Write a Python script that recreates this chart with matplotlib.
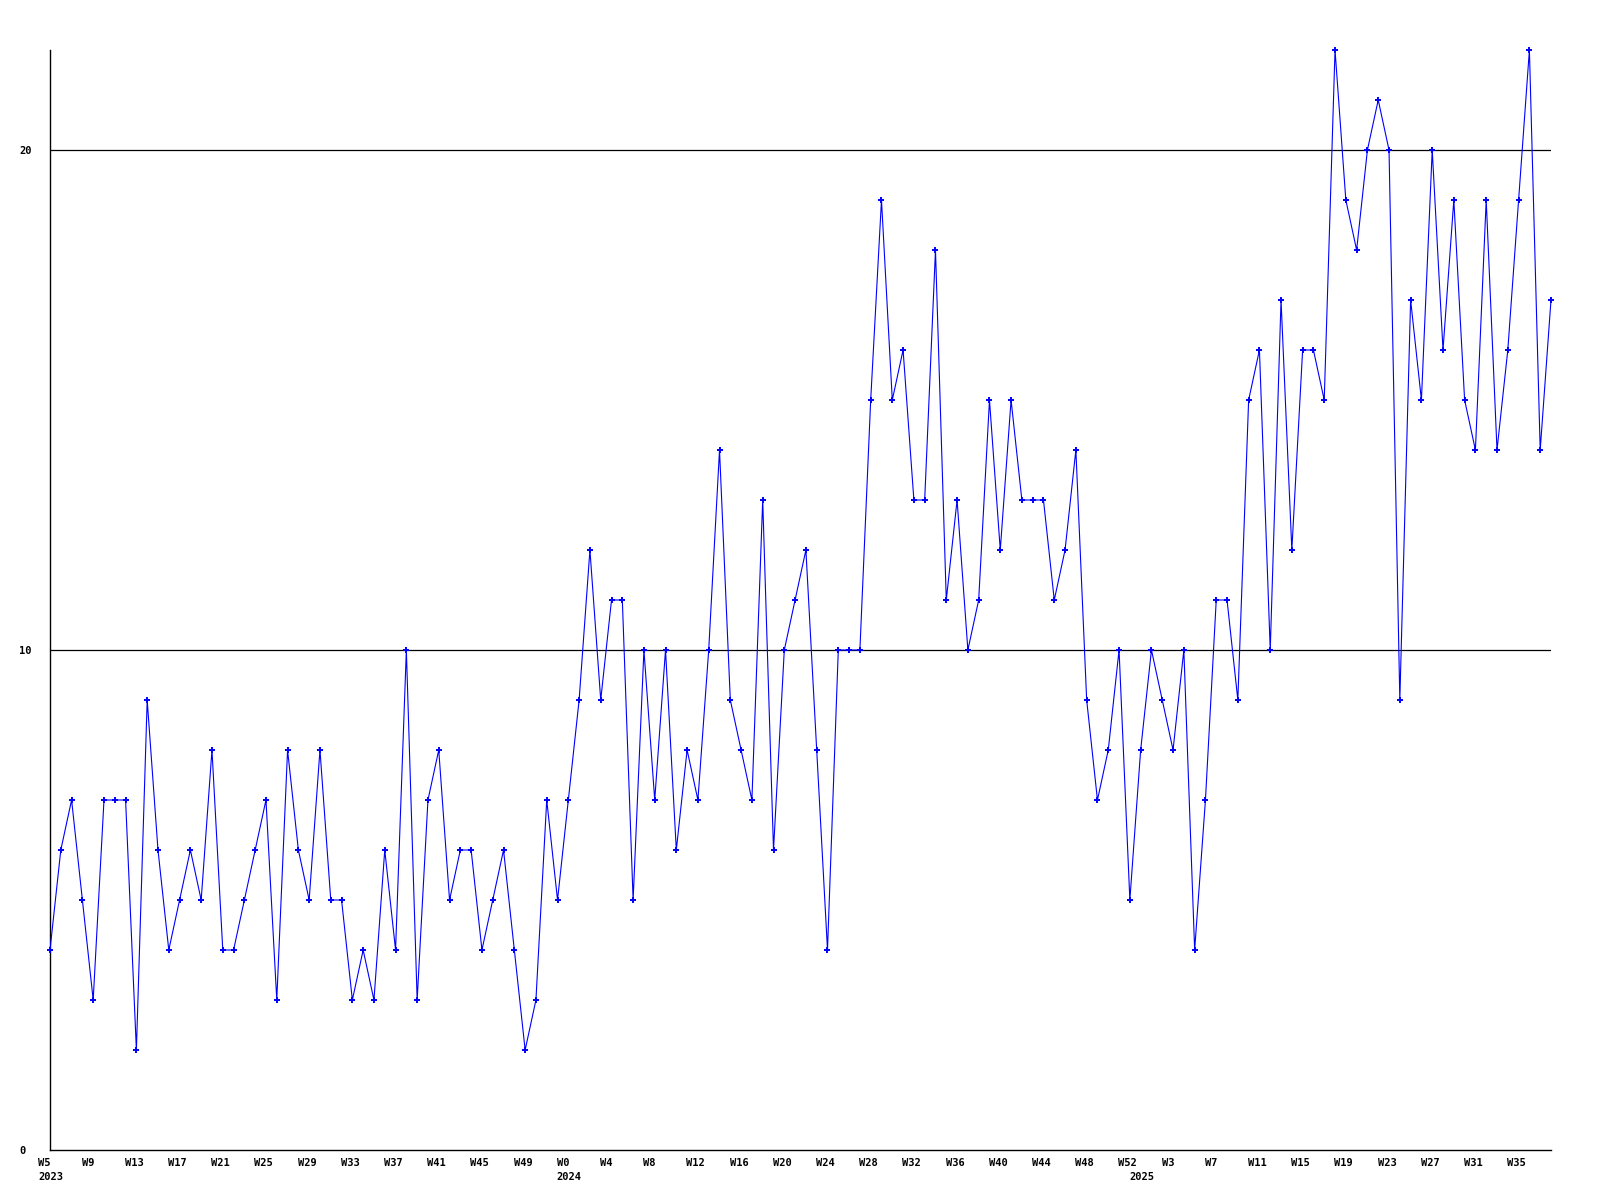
import matplotlib
matplotlib.use('Agg')
import matplotlib.pyplot as plt
import matplotlib.transforms as mtransforms

########################################
# Weekly counts, 2023 W5 .. 2025 W38

counts_2023 = [4, 6, 7, 5, 3, 7, 7, 7, 2, 9, 6, 4, 5, 6, 5, 8,
               4, 4, 5, 6, 7, 3, 8, 6, 5, 8, 5, 5, 3, 4, 3, 6,
               4, 10, 3, 7, 8, 5, 6, 6, 4, 5, 6, 4, 2, 3, 7, 5]
counts_2024 = [7, 9, 12, 9, 11, 11, 5, 10, 7, 10, 6, 8, 7, 10, 14, 9,
               8, 7, 13, 6, 10, 11, 12, 8, 4, 10, 10, 10, 15, 19, 15, 16,
               13, 13, 18, 11, 13, 10, 11, 15, 12, 15, 13, 13, 13, 11, 12, 14,
               9, 7, 8, 10, 5]
counts_2025 = [8, 10, 9, 8, 10, 4, 7, 11, 11, 9, 15, 16, 10, 17, 12, 16,
               16, 15, 22, 19, 18, 20, 21, 20, 9, 17, 15, 20, 16, 19, 15, 14,
               19, 14, 16, 19, 22, 14, 17]

week_labels = ([f'W{w}' for w in range(5, 53)] +
               [f'W{w}' for w in range(0, 53)] +
               [f'W{w}' for w in range(0, 39)])
year_labels = ['2023', '2024', '2025']
year_starts = [0, len(counts_2023), len(counts_2023) + len(counts_2024)]

counts = counts_2023 + counts_2024 + counts_2025
x = list(range(len(counts)))

########################################

plt.rcParams['font.family'] = 'DejaVu Sans Mono'
plt.rcParams['font.weight'] = 'bold'
plt.rcParams['font.size'] = 7.5

fig = plt.figure(figsize=(16, 12), dpi=100)
fig.patch.set_facecolor('white')
ax = fig.add_axes([50 / 1600, 50 / 1200, 1501 / 1600, 1100 / 1200])

ax.plot(x, counts, color='#0000ff', linewidth=0.8, marker='+', markersize=4,
        markeredgewidth=1.4, clip_on=False, zorder=3)

ax.set_xlim(0, len(counts) - 1)
ax.set_ylim(0, 22)

for v in (10, 20):
    ax.axhline(v, color='black', linewidth=0.9, zorder=1)

for side in ('top', 'right'):
    ax.spines[side].set_visible(False)
for side in ('left', 'bottom'):
    ax.spines[side].set_linewidth(1.0)
    ax.spines[side].set_color('black')

ticks = x[::4]
ax.set_xticks(ticks)
ax.set_xticklabels([week_labels[i] for i in ticks])
ax.tick_params(axis='x', length=0, pad=6)

ax.set_yticks([0, 10, 20])
ax.set_yticklabels(['0', '10', '20'])
ax.tick_params(axis='y', length=0, pad=22)

offset = mtransforms.ScaledTranslation(-0.115, 0, fig.dpi_scale_trans)
for lab in ax.get_xticklabels():
    lab.set_horizontalalignment('left')
    lab.set_transform(lab.get_transform() + offset)
for lab in ax.get_yticklabels():
    lab.set_horizontalalignment('left')

# year names under the first week of each year
year_trans = ax.get_xaxis_transform() + offset
for pos, name in zip(year_starts, year_labels):
    ax.text(pos, 0, name, transform=year_trans, ha='left', va='top',
            fontsize=7.5, fontweight='bold')
for t in ax.texts:
    t.set_transform(t.get_transform() + mtransforms.ScaledTranslation(0, -0.215, fig.dpi_scale_trans))

plt.savefig('out.png', dpi=100)
